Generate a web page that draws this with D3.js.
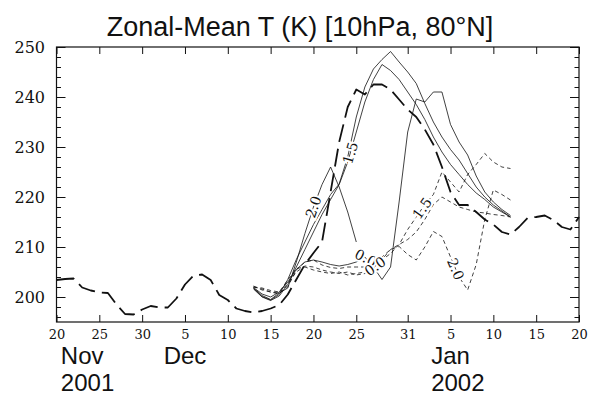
<!DOCTYPE html>
<html>
<head>
<meta charset="utf-8">
<script src="https://cdn.jsdelivr.net/npm/d3@7"></script>
<style>
	body { margin: 0; background: #fff; }
	svg { display: block; }
	.axis text { font-family: "DejaVu Serif", serif; fill: #111; }
	.axis line { stroke: #111; }
</style>
</head>
<body>
<div id="chart"></div>
<script>
// Data
// ----

const titleText = "Zonal-Mean T (K) [10hPa, 80°N]";

// analysis, one value per day from Nov 20
const analysisStart = "2001-11-20";
const analysisT = [
	203.4, 203.6, 203.7, 201.9, 201.3, 200.9, 200.8, 198.5, 196.6, 196.5,
	197.5, 198.2, 197.9, 197.9, 199.7, 202.5, 204.3, 204.5, 203.4, 200.4,
	199.4, 197.7, 197.2, 196.9, 197.2, 197.7, 198.4, 200.5, 203.5, 206.5,
	208.8, 211.0, 221.0, 231.0, 238.0, 241.5, 240.5, 242.5, 242.5, 241.5,
	239.5, 237.5, 236.0, 233.5, 230.5, 226.0, 221.0, 218.4, 218.4, 217.0,
	215.5, 214.5, 213.0, 212.5, 214.0, 215.8, 216.0, 216.3, 215.4, 214.0,
	213.5, 216.0
];

// forecasts, one value per day from Dec 13
const forecastStart = "2001-12-13";
const solidPeak = [
	201.7, 200.1, 199.4, 200.5, 203.5, 207.5, 211.0, 214.5, 217.5, 220.5,
	222.6, 228.0, 236.0, 242.0, 245.6, 247.5, 249.1, 247.0, 245.0, 242.7,
	238.7, 235.0, 232.0, 229.5, 227.4, 224.7, 222.0, 220.0, 218.4, 217.2,
	216.0
];
const solid15 = [
	201.6, 200.0, 199.3, 200.2, 202.5, 206.0, 209.5, 213.0, 216.5, 219.5,
	222.5, 227.0, 233.0, 239.0, 243.5, 246.5, 245.3, 243.5, 241.0, 238.5,
	235.5, 232.0, 229.0, 226.5, 224.5, 222.5, 220.8, 219.5, 218.0, 217.0,
	216.0
];
const solid20 = [
	201.8, 200.3, 199.5, 200.8, 201.8, 207.0, 212.7, 218.0, 222.5, 226.0,
	222.0, 217.0, 211.0
];
const solid00 = [
	201.9, 200.6, 200.0, 201.0, 203.0, 205.5, 207.0, 207.4, 207.0, 206.5,
	206.2, 206.5, 207.0, 208.0, 206.0, 203.5, 206.0, 219.0, 233.0, 239.6,
	239.0, 241.0, 241.0, 234.5, 231.0, 228.4, 224.2, 221.0, 219.0, 217.5,
	216.3
];
const dashed00 = [
	202.0, 201.6, 201.0, 200.8, 202.0, 205.4, 207.0, 207.4, 206.4, 205.9,
	205.7, 206.0, 206.0, 206.0, 205.8, 207.5, 209.5, 210.5, 211.5, 213.0,
	215.5, 218.5, 220.0, 219.0, 218.0, 217.5, 217.0, 216.8, 216.5, 216.3,
	216.0
];
const dashed15 = [
	202.2, 201.4, 201.0, 200.6, 202.7, 205.0, 206.2, 206.0, 205.4, 205.0,
	204.7, 205.0, 204.4, 204.7, 206.0, 207.4, 208.7, 210.5, 213.5, 216.0,
	218.5, 220.5, 225.0, 223.0, 221.0, 224.5, 226.5, 228.7, 227.0, 226.0,
	225.7
];
const dashed20 = [
	202.0, 201.8, 201.3, 201.0, 203.4, 205.7, 206.0, 205.4, 205.0, 204.7,
	205.0, 204.4, 204.7, 205.0, 206.5, 208.0, 209.5, 210.1, 208.5, 207.4,
	210.0, 213.1, 212.1, 208.0, 204.0, 201.4, 206.5, 215.5, 221.4, 220.5,
	219.4
];

// line labels: text and day (after Dec 13) where it sits
const labelTexts = ["2.0", "1.5", "0.0", "0.0", "1.5", "2.0"];
const labelDays = [7.0, 11.3, 13.1, 14.2, 19.7, 23.6];

const dateTicks = [
	"2001-11-20", "2001-11-25", "2001-11-30", "2001-12-05", "2001-12-10",
	"2001-12-15", "2001-12-20", "2001-12-25", "2001-12-31", "2002-01-05",
	"2002-01-10", "2002-01-15", "2002-01-20"
];
const monthNames = ["Nov", "Dec", "Jan"];
const monthDates = ["2001-11-23", "2001-12-05", "2002-01-05"];
const yearNames = ["2001", "", "2002"];
const yMajor = [200, 210, 220, 230, 240, 250];
const yMinor = [196, 198, 202, 204, 206, 208, 212, 214, 216, 218, 222, 224,
	226, 228, 232, 234, 236, 238, 242, 244, 246, 248];


// Layout
// ------

const W = 590, H = 396;
const plot = {left: 56.5, right: 579, top: 47, bottom: 322};
const parseDate = d3.utcParse("%Y-%m-%d");

const x = d3.scaleUtc()
	.domain([parseDate("2001-11-20"), parseDate("2002-01-20")])
	.range([plot.left, plot.right]);
const y = d3.scaleLinear()
	.domain([195, 250])
	.range([plot.bottom, plot.top]);

const svg = d3.select("#chart")
	.append("svg")
		.attr("width", W)
		.attr("height", H);

svg.append("rect")
	.attr("width", W)
	.attr("height", H)
	.attr("fill", "#fff");

function toSeries(start, values) {
	let t0 = parseDate(start);
	return values.map((v, i) => ({date: d3.utcDay.offset(t0, i), v: v}));
}


// Axes
// ----

const tickDates = dateTicks.map(parseDate);

function cleanAxis(g) {
	g.attr("class", "axis");
	g.select(".domain").remove();
}

svg.append("g")
	.attr("transform", "translate(0," + plot.bottom + ")")
	.call(d3.axisBottom(x)
		.tickValues(tickDates)
		.tickFormat(d3.utcFormat("%-d"))
		.tickSize(-7)
		.tickPadding(7.5))
	.call(cleanAxis)
	.selectAll("text")
		.style("font-size", "13px");

svg.append("g")
	.attr("transform", "translate(0," + plot.top + ")")
	.call(d3.axisTop(x).tickValues(tickDates).tickFormat("").tickSize(-7))
	.call(cleanAxis);

svg.append("g")
	.attr("transform", "translate(" + plot.left + ",0)")
	.call(d3.axisLeft(y).tickValues(yMajor).tickSize(-9).tickPadding(11.5))
	.call(cleanAxis)
	.selectAll("text")
		.style("font-size", "16px");

svg.append("g")
	.attr("transform", "translate(" + plot.left + ",0)")
	.call(d3.axisLeft(y).tickValues(yMinor).tickFormat("").tickSize(-4.5))
	.call(cleanAxis);

svg.append("g")
	.attr("transform", "translate(" + plot.right + ",0)")
	.call(d3.axisRight(y).tickValues(yMajor).tickFormat("").tickSize(-9))
	.call(cleanAxis);

svg.append("g")
	.attr("transform", "translate(" + plot.right + ",0)")
	.call(d3.axisRight(y).tickValues(yMinor).tickFormat("").tickSize(-4.5))
	.call(cleanAxis);

svg.append("rect")
	.attr("x", plot.left)
	.attr("y", plot.top)
	.attr("width", plot.right - plot.left)
	.attr("height", plot.bottom - plot.top)
	.attr("fill", "none")
	.attr("stroke", "#111")
	.attr("stroke-width", 1.2);


// Title and month labels
// ----------------------

svg.append("text")
	.attr("x", 300)
	.attr("y", 36)
	.style("text-anchor", "middle")
	.style("font-family", "'Liberation Sans', Arial, sans-serif")
	.style("font-size", "27px")
	.style("fill", "#111")
	.text(titleText);

monthNames.forEach((m, i) => {
	let t = svg.append("text")
		.attr("x", x(parseDate(monthDates[i])))
		.attr("y", 364)
		.style("text-anchor", "middle")
		.style("font-family", "'Liberation Sans', Arial, sans-serif")
		.style("font-size", "24px")
		.style("fill", "#111")
		.text(m);
	if (yearNames[i]) {
		let left = t.node().getBBox().x;
		svg.append("text")
			.attr("x", left)
			.attr("y", 390.5)
			.style("font-family", "'Liberation Sans', Arial, sans-serif")
			.style("font-size", "24px")
			.style("fill", "#111")
			.text(yearNames[i]);
	}
});


// Lines
// -----

const line = d3.line()
	.x(d => x(d.date))
	.y(d => y(d.v));

function drawLine(series, width, dash) {
	svg.append("path")
		.datum(series)
		.attr("fill", "none")
		.attr("stroke", "#111")
		.attr("stroke-width", width)
		.attr("stroke-dasharray", dash)
		.attr("stroke-linejoin", "round")
		.attr("d", line);
}

const forecasts = [solid20, solid15, solid00, dashed00, dashed15, dashed20, solidPeak]
	.map(v => toSeries(forecastStart, v));
const dashes = [null, null, null, "4,3", "4,3", "4,3", null];

forecasts.forEach((s, i) => drawLine(s, 0.8, dashes[i]));
drawLine(toSeries(analysisStart, analysisT), 1.8, "18,7");

// position on a series at a fractional day, in pixels
function pointAt(series, day) {
	let i = Math.max(0, Math.min(series.length - 2, Math.floor(day)));
	let f = day - i;
	let a = series[i], b = series[i + 1];
	return [
		x(a.date) + f * (x(b.date) - x(a.date)),
		y(a.v) + f * (y(b.v) - y(a.v))
	];
}

labelTexts.forEach((txt, i) => {
	let s = forecasts[i];
	let [px, py] = pointAt(s, labelDays[i]);
	let p0 = pointAt(s, labelDays[i] - 0.4),
		p1 = pointAt(s, labelDays[i] + 0.4);
	let ang = Math.atan2(p1[1] - p0[1], p1[0] - p0[0]) * 180 / Math.PI;
	if (ang > 90) ang -= 180;
	if (ang < -90) ang += 180;
	svg.append("text")
		.attr("transform", "translate(" + px + "," + py + ") rotate(" + ang + ")")
		.attr("dy", "0.35em")
		.style("text-anchor", "middle")
		.style("font-family", "'DejaVu Serif', serif")
		.style("font-size", "14px")
		.style("fill", "#111")
		.style("stroke", "#fff")
		.style("stroke-width", 4)
		.style("paint-order", "stroke")
		.text(txt);
});
</script>
</body>
</html>
